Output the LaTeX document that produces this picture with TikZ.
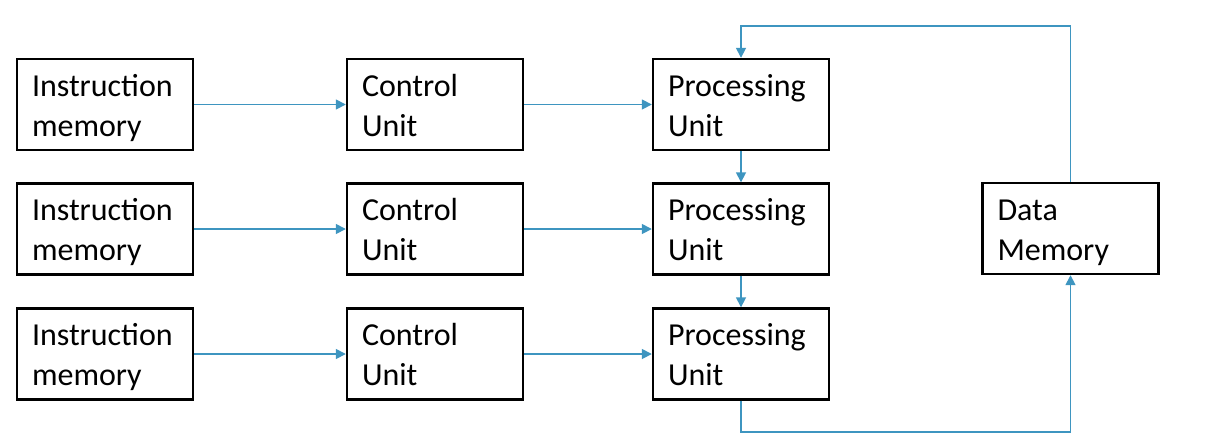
\documentclass[tikz,border=0pt]{standalone}
\usepackage{fontspec}
\setmainfont{Carlito}
\usetikzlibrary{arrows.meta}
\definecolor{arrblue}{HTML}{3E95C0}
\newcommand\lstrut{\rule[-8.5pt]{0pt}{40pt}}
\tikzset{
  blk/.style={draw=black, line width=2.4pt, rectangle, minimum width=176pt, minimum height=91pt,
    inner xsep=14pt, inner ysep=0pt, align=left, text width=146pt,
    font=\fontsize{32}{40}\selectfont},
  arr/.style={draw=arrblue, line width=1.6pt, -{Triangle[length=10pt,width=10pt]}}
}
\begin{document}
\begin{tikzpicture}[x=1pt,y=-1pt]
\useasboundingbox (0,0) rectangle (1220,440);
\node[blk] (im1) at (105,104.5) {\lstrut Instruction\\\lstrut memory};
\node[blk] (im2) at (105,229) {\lstrut Instruction\\\lstrut memory};
\node[blk] (im3) at (105,354) {\lstrut Instruction\\\lstrut memory};
\node[blk] (cu1) at (435,104.5) {\lstrut Control\\\lstrut Unit};
\node[blk] (cu2) at (435,229) {\lstrut Control\\\lstrut Unit};
\node[blk] (cu3) at (435,354) {\lstrut Control\\\lstrut Unit};
\node[blk] (pu1) at (741,104.5) {\lstrut Processing\\\lstrut Unit};
\node[blk] (pu2) at (741,229) {\lstrut Processing\\\lstrut Unit};
\node[blk] (pu3) at (741,354) {\lstrut Processing\\\lstrut Unit};
\node[blk] (dm) at (1070.5,228.5) {\lstrut Data\\\lstrut Memory};
\coordinate (top) at (741,26);
\coordinate (bot) at (741,432);
\draw[arr] (im1) -- (cu1);
\draw[arr] (im2) -- (cu2);
\draw[arr] (im3) -- (cu3);
\draw[arr] (cu1) -- (pu1);
\draw[arr] (cu2) -- (pu2);
\draw[arr] (cu3) -- (pu3);
\draw[arr] (pu1) -- (pu2);
\draw[arr] (pu2) -- (pu3);
\draw[arr] (pu3.south) -- (bot) -| (dm.south);
\draw[arr] (dm.north) |- (top) -- (pu1.north);
\end{tikzpicture}
\end{document}
